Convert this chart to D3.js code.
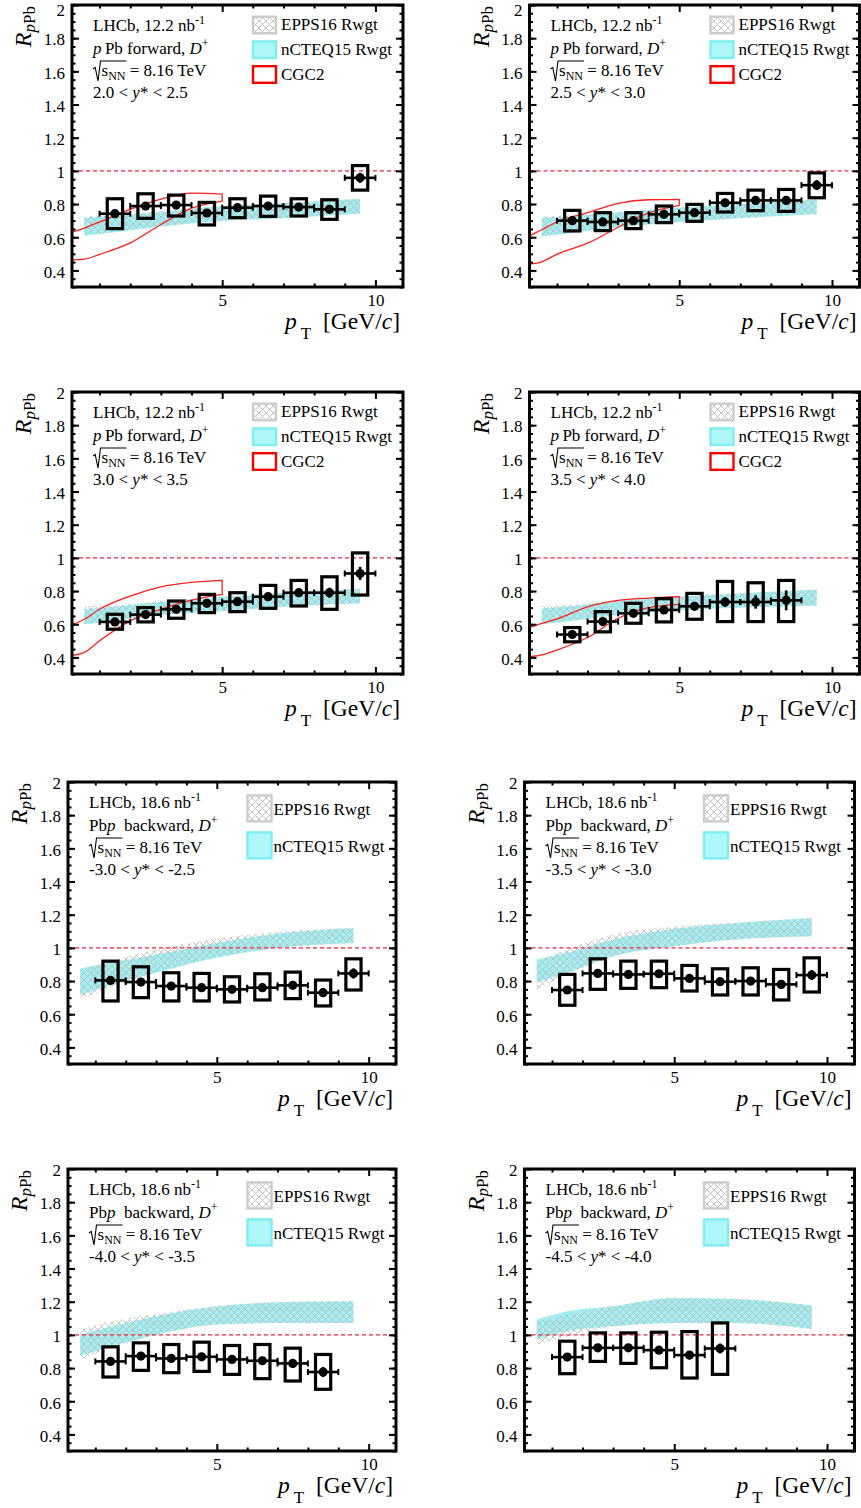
<!DOCTYPE html>
<html>
<head>
<meta charset="utf-8">
<script src="https://cdn.jsdelivr.net/npm/d3@7"></script>
<style>
  body { margin: 0; background: #fff; }
  text { font-family: "Liberation Serif", "Times New Roman", serif; }
</style>
</head>
<body>
<svg id="chart" width="861" height="1508"></svg>
<script>
// ---- data ----
const ptBins = [1.5, 2.5, 3.5, 4.5, 5.5, 6.5, 7.5, 8.5, 9.5];
const rapidityRanges = [
  ['2.0', '2.5'], ['2.5', '3.0'], ['3.0', '3.5'], ['3.5', '4.0'],
  ['-3.0', '-2.5'], ['-3.5', '-3.0'], ['-4.0', '-3.5'], ['-4.5', '-4.0']
];
const isForward = [true, true, true, true, false, false, false, false];

const ratio = [
  [0.742, 0.788, 0.794, 0.746, 0.778, 0.788, 0.782, 0.768, 0.958],
  [0.700, 0.692, 0.700, 0.738, 0.748, 0.808, 0.822, 0.822, 0.914],
  [0.614, 0.658, 0.690, 0.726, 0.736, 0.766, 0.790, 0.790, 0.906],
  [0.538, 0.616, 0.666, 0.686, 0.708, 0.734, 0.734, 0.744],
  [0.804, 0.794, 0.770, 0.760, 0.750, 0.760, 0.774, 0.730, 0.846],
  [0.746, 0.846, 0.840, 0.844, 0.816, 0.796, 0.800, 0.780, 0.836],
  [0.840, 0.872, 0.858, 0.868, 0.852, 0.844, 0.828, 0.776],
  [0.866, 0.922, 0.922, 0.908, 0.878, 0.918]
];
const systHigh = [
  [0.832, 0.862, 0.854, 0.810, 0.832, 0.848, 0.832, 0.826, 1.032],
  [0.762, 0.748, 0.748, 0.788, 0.798, 0.864, 0.884, 0.888, 0.988],
  [0.660, 0.700, 0.740, 0.780, 0.790, 0.834, 0.864, 0.886, 1.030],
  [0.580, 0.676, 0.726, 0.754, 0.786, 0.858, 0.850, 0.864],
  [0.920, 0.886, 0.850, 0.846, 0.826, 0.844, 0.854, 0.806, 0.934],
  [0.840, 0.934, 0.920, 0.920, 0.894, 0.874, 0.880, 0.870, 0.940],
  [0.928, 0.952, 0.942, 0.956, 0.936, 0.942, 0.920, 0.882],
  [0.962, 1.012, 1.012, 1.016, 1.020, 1.072]
];
const systLow = [
  [0.652, 0.714, 0.728, 0.674, 0.718, 0.726, 0.728, 0.708, 0.884],
  [0.638, 0.640, 0.652, 0.688, 0.696, 0.752, 0.760, 0.756, 0.838],
  [0.570, 0.614, 0.636, 0.670, 0.676, 0.696, 0.710, 0.690, 0.776],
  [0.494, 0.554, 0.606, 0.614, 0.630, 0.616, 0.616, 0.616],
  [0.680, 0.700, 0.680, 0.680, 0.674, 0.686, 0.694, 0.650, 0.746],
  [0.654, 0.750, 0.756, 0.760, 0.740, 0.716, 0.716, 0.686, 0.734],
  [0.746, 0.786, 0.772, 0.780, 0.762, 0.736, 0.722, 0.672],
  [0.766, 0.840, 0.828, 0.802, 0.740, 0.762]
];
const statErr = [
  [0.012, 0.012, 0.012, 0.012, 0.014, 0.016, 0.018, 0.022, 0.030],
  [0.012, 0.012, 0.012, 0.012, 0.014, 0.016, 0.018, 0.022, 0.030],
  [0.012, 0.012, 0.012, 0.014, 0.016, 0.018, 0.022, 0.030, 0.040],
  [0.012, 0.012, 0.014, 0.016, 0.020, 0.030, 0.040, 0.060],
  [0.015, 0.015, 0.015, 0.015, 0.015, 0.018, 0.020, 0.025, 0.030],
  [0.015, 0.015, 0.015, 0.015, 0.015, 0.018, 0.020, 0.025, 0.030],
  [0.015, 0.015, 0.015, 0.015, 0.018, 0.020, 0.025, 0.030],
  [0.015, 0.015, 0.018, 0.020, 0.025, 0.030]
];

// theory bands: knots in pT
const bandPt = [0.5, 1.5, 3, 5, 7, 9.5];
const ncteqLow = [
  [0.608, 0.630, 0.665, 0.698, 0.715, 0.742],
  [0.604, 0.625, 0.660, 0.692, 0.715, 0.738],
  [0.600, 0.620, 0.655, 0.678, 0.705, 0.726],
  [0.600, 0.620, 0.655, 0.685, 0.700, 0.712],
  [0.716, 0.775, 0.850, 0.940, 1.000, 1.030],
  [0.790, 0.850, 0.950, 1.010, 1.050, 1.070],
  [0.872, 0.930, 1.000, 1.062, 1.072, 1.072],
  [0.972, 1.022, 1.052, 1.072, 1.072, 1.036]
];
const ncteqHigh = [
  [0.718, 0.730, 0.752, 0.788, 0.805, 0.832],
  [0.718, 0.728, 0.750, 0.778, 0.800, 0.828],
  [0.692, 0.705, 0.735, 0.765, 0.790, 0.814],
  [0.695, 0.710, 0.740, 0.765, 0.785, 0.810],
  [0.876, 0.910, 0.960, 1.030, 1.085, 1.120],
  [0.930, 0.970, 1.050, 1.115, 1.150, 1.180],
  [1.000, 1.050, 1.112, 1.172, 1.196, 1.202],
  [1.092, 1.142, 1.172, 1.222, 1.216, 1.178]
];
const eppsLow = [
  [0.615, 0.635, 0.668, 0.700, 0.716, 0.744],
  [0.610, 0.628, 0.662, 0.694, 0.716, 0.740],
  [0.600, 0.622, 0.656, 0.680, 0.706, 0.728],
  [0.600, 0.622, 0.656, 0.686, 0.702, 0.714],
  [0.694, 0.760, 0.855, 0.945, 1.000, 1.030],
  [0.750, 0.840, 0.950, 1.010, 1.050, 1.070],
  [0.850, 0.920, 1.000, 1.062, 1.072, 1.072],
  [0.940, 0.990, 1.050, 1.072, 1.072, 1.036]
];
const eppsHigh = [
  [0.725, 0.735, 0.756, 0.788, 0.805, 0.832],
  [0.722, 0.732, 0.752, 0.780, 0.800, 0.828],
  [0.710, 0.715, 0.738, 0.765, 0.790, 0.814],
  [0.710, 0.718, 0.742, 0.766, 0.786, 0.810],
  [0.870, 0.920, 0.990, 1.055, 1.095, 1.120],
  [0.920, 0.990, 1.080, 1.130, 1.150, 1.180],
  [1.030, 1.080, 1.125, 1.172, 1.196, 1.202],
  [1.080, 1.120, 1.172, 1.222, 1.216, 1.178]
];

// CGC2 prediction (forward only)
const cgcPt = [0.1, 0.5, 1, 2, 3, 4, 5];
const cgcHigh = [
  [0.632, 0.655, 0.692, 0.768, 0.830, 0.866, 0.860],
  [0.608, 0.645, 0.692, 0.748, 0.804, 0.826, 0.828],
  [0.596, 0.630, 0.690, 0.770, 0.825, 0.852, 0.864],
  [0.580, 0.605, 0.632, 0.705, 0.744, 0.758, 0.766]
];
const cgcLow = [
  [0.464, 0.468, 0.497, 0.566, 0.677, 0.775, 0.818],
  [0.438, 0.452, 0.498, 0.564, 0.660, 0.747, 0.792],
  [0.412, 0.430, 0.500, 0.620, 0.690, 0.745, 0.780],
  [0.404, 0.415, 0.445, 0.520, 0.636, 0.700, 0.720]
];

const yMajor = [0.4, 0.6, 0.8, 1, 1.2, 1.4, 1.6, 1.8, 2];
const xMajor = [5, 10];
const xMinor = [1, 2, 3, 4, 6, 7, 8, 9];

// ---- layout ----
const rowTops = [5, 392, 782, 1169];
const colRanges = [
  [[72, 403], [529.5, 859.5]],
  [[72, 403], [529.5, 859.5]],
  [[68, 396], [524.5, 854.5]],
  [[68, 396], [524.5, 854.5]]
];
const plotH = 282;
const cyanFill = '#a2eff1';
const boxHalf = 0.25;

const svg = d3.select('#chart');
svg.append('defs').append('pattern')
  .attr('id', 'hatch')
  .attr('patternUnits', 'userSpaceOnUse')
  .attr('width', 7).attr('height', 7)
  .append('path')
  .attr('d', 'M-1,-1L8,8M8,-1L-1,8')
  .attr('stroke', '#bcbcbc')
  .attr('stroke-width', 0.9)
  .attr('fill', 'none');

function drawPanel(i) {
  const row = Math.floor(i / 2), col = i % 2;
  const [x0, x1] = colRanges[row][col];
  const top = rowTops[row], bottom = top + plotH;
  const x = d3.scaleLinear().domain([0.1, 10.9]).range([x0, x1]);
  const y = d3.scaleLinear().domain([0.3, 2]).range([bottom, top]);
  const g = svg.append('g');

  const band = d3.area()
    .x(d => x(d.pt)).y0(d => y(d.lo)).y1(d => y(d.hi))
    .curve(d3.curveMonotoneX);

  // nCTEQ15 band (solid cyan) then EPPS16 hatch on top
  g.append('path')
    .datum(bandPt.map((pt, j) => ({ pt, lo: ncteqLow[i][j], hi: ncteqHigh[i][j] })))
    .attr('d', band).attr('fill', cyanFill);
  g.append('path')
    .datum(bandPt.map((pt, j) => ({ pt, lo: eppsLow[i][j], hi: eppsHigh[i][j] })))
    .attr('d', band).attr('fill', 'url(#hatch)');

  if (isForward[i]) {
    g.append('path')
      .datum(cgcPt.map((pt, j) => ({ pt, lo: cgcLow[i][j], hi: cgcHigh[i][j] })))
      .attr('d', band)
      .attr('fill', 'none').attr('stroke', '#ff1f1f').attr('stroke-width', 1.3);
  }

  // reference line at 1
  g.append('line')
    .attr('x1', x0).attr('x2', x1)
    .attr('y1', y(1)).attr('y2', y(1))
    .attr('stroke', '#ee2244').attr('stroke-width', 1.1)
    .attr('stroke-dasharray', '4,3');

  // data points
  const pts = ratio[i].map((v, j) => ({
    pt: ptBins[j], v, hi: systHigh[i][j], lo: systLow[i][j], stat: statErr[i][j]
  }));
  const pg = g.selectAll('.pt').data(pts).enter().append('g').attr('class', 'pt');
  pg.append('rect')
    .attr('x', d => x(d.pt - boxHalf))
    .attr('width', d => x(d.pt + boxHalf) - x(d.pt - boxHalf))
    .attr('y', d => y(d.hi))
    .attr('height', d => y(d.lo) - y(d.hi))
    .attr('fill', 'none').attr('stroke', '#000').attr('stroke-width', 3.2);
  pg.append('line')
    .attr('x1', d => x(d.pt - 0.5)).attr('x2', d => x(d.pt + 0.5))
    .attr('y1', d => y(d.v)).attr('y2', d => y(d.v))
    .attr('stroke', '#000').attr('stroke-width', 2.6);
  [-0.5, 0.5].forEach(off => {
    pg.append('line')
      .attr('x1', d => x(d.pt + off)).attr('x2', d => x(d.pt + off))
      .attr('y1', d => y(d.v) - 3).attr('y2', d => y(d.v) + 3)
      .attr('stroke', '#000').attr('stroke-width', 2);
  });
  pg.append('line')
    .attr('x1', d => x(d.pt)).attr('x2', d => x(d.pt))
    .attr('y1', d => y(d.v - d.stat)).attr('y2', d => y(d.v + d.stat))
    .attr('stroke', '#000').attr('stroke-width', 2.6);
  pg.append('circle')
    .attr('cx', d => x(d.pt)).attr('cy', d => y(d.v))
    .attr('r', 4.6).attr('fill', '#000');

  // axes (ticks inward on all four sides)
  const styleAxis = sel => {
    sel.select('.domain').remove();
    sel.attr('font-family', 'Liberation Serif, serif').attr('font-size', 17);
    sel.selectAll('line').attr('stroke-width', 2);
  };
  const yMinor = d3.range(0.3, 2.0001, 0.05);
  g.append('g').attr('transform', `translate(${x0},0)`)
    .call(d3.axisLeft(y).tickValues(yMajor).tickSize(-7).tickPadding(7).tickFormat(d3.format('~g')))
    .call(styleAxis)
    .selectAll('text')
    // keep the topmost label of the first row inside the page
    .attr('dy', d => (d === 2 && top < 10) ? '0.6em' : '0.4em');
  g.append('g').attr('transform', `translate(${x0},0)`)
    .call(d3.axisLeft(y).tickValues(yMinor).tickSize(-3.5).tickFormat(''))
    .call(styleAxis);
  g.append('g').attr('transform', `translate(${x1},0)`)
    .call(d3.axisRight(y).tickValues(yMajor).tickSize(-7).tickFormat(''))
    .call(styleAxis);
  g.append('g').attr('transform', `translate(${x1},0)`)
    .call(d3.axisRight(y).tickValues(yMinor).tickSize(-3.5).tickFormat(''))
    .call(styleAxis);
  g.append('g').attr('transform', `translate(0,${bottom})`)
    .call(d3.axisBottom(x).tickValues(xMajor).tickSize(-7).tickPadding(7).tickFormat(d3.format('d')))
    .call(styleAxis);
  g.append('g').attr('transform', `translate(0,${bottom})`)
    .call(d3.axisBottom(x).tickValues(xMinor).tickSize(-3.5).tickFormat(''))
    .call(styleAxis);
  g.append('g').attr('transform', `translate(0,${top})`)
    .call(d3.axisTop(x).tickValues(xMajor).tickSize(-7).tickFormat(''))
    .call(styleAxis);
  g.append('g').attr('transform', `translate(0,${top})`)
    .call(d3.axisTop(x).tickValues(xMinor).tickSize(-3.5).tickFormat(''))
    .call(styleAxis);

  // frame
  g.append('rect')
    .attr('x', x0).attr('y', top).attr('width', x1 - x0).attr('height', plotH)
    .attr('fill', 'none').attr('stroke', '#000').attr('stroke-width', 3);

  // axis titles
  const yt = g.append('text')
    .attr('transform', `translate(${x0 - 41},${top + 1}) rotate(-90)`)
    .attr('text-anchor', 'end').attr('font-size', 24);
  yt.append('tspan').attr('font-style', 'italic').text('R');
  yt.append('tspan').attr('font-size', 17).attr('dy', 4).attr('font-style', 'italic').text('p');
  yt.append('tspan').attr('font-size', 17).text('Pb');

  const xt = g.append('text')
    .attr('x', x1 - 3).attr('y', bottom + 42)
    .attr('text-anchor', 'end').attr('font-size', 23.5);
  xt.append('tspan').attr('font-style', 'italic').text('p');
  xt.append('tspan').attr('font-size', 17).attr('dy', 10).attr('dx', 4).text('T');
  xt.append('tspan').attr('dy', -10).text('\u2002[GeV/');
  xt.append('tspan').attr('font-style', 'italic').text('c');
  xt.append('tspan').text(']');

  // text block
  const tx = x0 + 21;
  const l1 = g.append('text').attr('x', tx).attr('y', top + 26).attr('font-size', 17);
  l1.append('tspan').text(isForward[i] ? 'LHCb, 12.2 nb' : 'LHCb, 18.6 nb');
  l1.append('tspan').attr('font-size', 12).attr('dy', -7).text('-1');

  const l2 = g.append('text').attr('x', tx).attr('y', top + 48.5).attr('font-size', 17);
  if (isForward[i]) {
    l2.append('tspan').attr('font-style', 'italic').text('p');
    l2.append('tspan').text('\u2009Pb forward, ');
  } else {
    l2.append('tspan').text('Pb');
    l2.append('tspan').attr('font-style', 'italic').text('p');
    l2.append('tspan').text('\u2002backward, ');
  }
  l2.append('tspan').attr('font-style', 'italic').text('D');
  l2.append('tspan').attr('font-size', 12).attr('dy', -7).text('+');

  const b3 = top + 71;
  const l3 = g.append('text').attr('x', tx + 8.5).attr('y', b3).attr('font-size', 17);
  l3.append('tspan').text('s');
  l3.append('tspan').attr('font-size', 12).attr('dy', 4).text('NN');
  l3.append('tspan').attr('dy', -4).text(' = 8.16 TeV');
  const rootLen = l3.node().getSubStringLength(0, 3);
  g.append('path')
    .attr('d', `M${tx},${b3 - 7}L${tx + 2.2},${b3 - 8.5}L${tx + 5},${b3 + 5}L${tx + 7.5},${b3 - 15}H${tx + 9.5 + rootLen}`)
    .attr('fill', 'none').attr('stroke', '#000').attr('stroke-width', 1.1);

  const l4 = g.append('text').attr('x', tx).attr('y', top + 93).attr('font-size', 17);
  l4.append('tspan').text(rapidityRanges[i][0] + ' < ');
  l4.append('tspan').attr('font-style', 'italic').text('y');
  l4.append('tspan').text('* < ' + rapidityRanges[i][1]);

  // legend
  if (isForward[i]) {
    const lx = x0 + 181;
    const entries = [
      { name: 'EPPS16 Rwgt', fill: 'url(#hatch)', stroke: '#cccccc', cy: 20 },
      { name: 'nCTEQ15 Rwgt', fill: '#aef7f8', stroke: '#7eeef0', cy: 44.7 },
      { name: 'CGC2', fill: '#fff', stroke: '#ff0000', cy: 69.5 }
    ];
    entries.forEach(e => {
      g.append('rect').attr('x', lx).attr('y', top + e.cy - 8.3)
        .attr('width', 23).attr('height', 16.6)
        .attr('fill', e.fill).attr('stroke', e.stroke).attr('stroke-width', 2.4);
      g.append('text').attr('x', lx + 28).attr('y', top + e.cy + 5)
        .attr('font-size', 17).text(e.name);
    });
  } else {
    const lx = x0 + 179.5;
    const entries = [
      { name: 'EPPS16 Rwgt', fill: 'url(#hatch)', stroke: '#cccccc', cy: 26.4 },
      { name: 'nCTEQ15 Rwgt', fill: '#aef7f8', stroke: '#7eeef0', cy: 63.4 }
    ];
    entries.forEach(e => {
      g.append('rect').attr('x', lx).attr('y', top + e.cy - 13)
        .attr('width', 24).attr('height', 26)
        .attr('fill', e.fill).attr('stroke', e.stroke).attr('stroke-width', 2.4);
      g.append('text').attr('x', lx + 26).attr('y', top + e.cy + 7)
        .attr('font-size', 17).text(e.name);
    });
  }
}

ratio.forEach((_, i) => drawPanel(i));
</script>
</body>
</html>
